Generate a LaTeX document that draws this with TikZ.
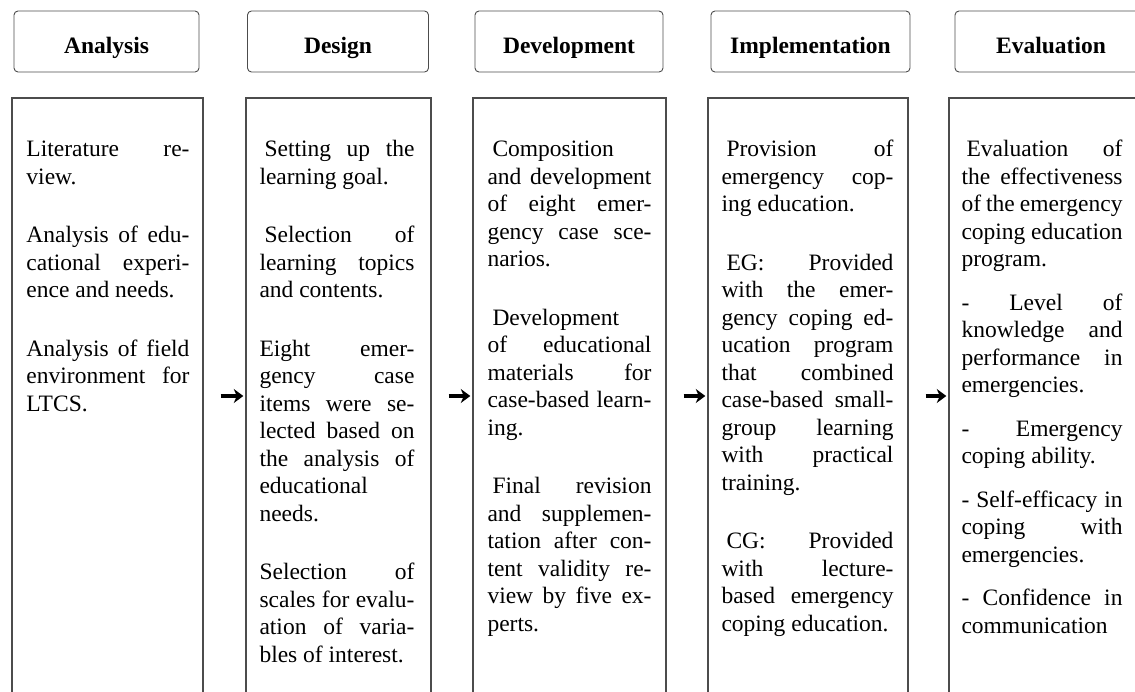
\documentclass[tikz,border=0pt]{standalone}
\usepackage{fontspec}
\setmainfont{Liberation Serif}
\usetikzlibrary{positioning,arrows.meta}

\begin{document}
\begin{tikzpicture}[x=1pt,y=-1pt,
  phase/.style={draw=black!70,line width=0.9pt,rounded corners=4pt,minimum height=61pt,inner sep=0pt,text height=23pt,text depth=0pt,font=\fontsize{23.5}{27}\selectfont\bfseries},
  stagebox/.style={draw=black!70,line width=1.4pt,minimum height=596pt,inner sep=0pt},
  stagetext/.style 2 args={inner sep=0pt,anchor=north west,align=justify,execute at begin node={\fontsize{23.5}{#1}\selectfont\setlength{\parskip}{#2}\strut}},
  flow/.style={line width=3.4pt,-{Stealth[length=9.5pt,width=14pt,inset=3pt]},shorten <=17pt,shorten >=2pt}]

\useasboundingbox (0,0) rectangle (1135,691);
\clip (0,0) rectangle (1135,691);

% phase titles
\node[phase,minimum width=185pt] (anaHead) at (106.5,41.5) {Analysis};
\node[phase,minimum width=181pt] (desHead) at (338,41.5) {Design};
\node[phase,minimum width=188pt] (devHead) at (569,41.5) {Development};
\node[phase,minimum width=199pt] (impHead) at (810.5,41.5) {Implementation};
\node[phase,minimum width=192pt] (evaHead) at (1051,41.5) {Evaluation};

% tall boxes
\node[stagebox,minimum width=191pt] (ana) at (107.5,396) {};
\node[stagebox,minimum width=185pt] (des) at (338.5,396) {};
\node[stagebox,minimum width=193pt] (dev) at (569.5,396) {};
\node[stagebox,minimum width=200pt] (imp) at (808,396) {};
\node[stagebox,minimum width=194pt] (eva) at (1046,396) {};

\node[stagetext={27.5}{31pt},text width=163pt,below right=40pt and 15pt of ana.north west] (anaText) {%
Literature re-\linebreak view.\par
Analysis of edu-\linebreak cational experi-\linebreak ence and needs.\par
Analysis of field\linebreak environment for\linebreak LTCS.};

\node[stagetext={27.5}{31pt},text width=155pt,below right=40pt and 14pt of des.north west] (desText) {%
\hspace*{5pt}Setting up the\linebreak learning goal.\par
\hspace*{5pt}Selection of\linebreak learning topics\linebreak and contents.\par
Eight emer-\linebreak gency case\linebreak items were se-\linebreak lected based on\linebreak the analysis of\linebreak educational\linebreak needs.\par
Selection of\linebreak scales for evalu-\linebreak ation of varia-\linebreak bles of interest.};

\node[stagetext={27.5}{31pt},text width=164pt,below right=40pt and 15pt of dev.north west] (devText) {%
\hspace*{5pt}Composition\linebreak and development\linebreak of eight emer-\linebreak gency case sce-\linebreak narios.\par
\hspace*{5pt}Development\linebreak of educational\linebreak materials for\linebreak case-based learn-\linebreak ing.\par
\hspace*{5pt}Final revision\linebreak and supplemen-\linebreak tation after con-\linebreak tent validity re-\linebreak view by five ex-\linebreak perts.};

\node[stagetext={27.5}{31pt},text width=172pt,below right=40pt and 14pt of imp.north west] (impText) {%
\hspace*{5pt}Provision of\linebreak emergency cop-\linebreak ing education.\par
\hspace*{5pt}EG: Provided\linebreak with the emer-\linebreak gency coping ed-\linebreak ucation program\linebreak that combined\linebreak case-based small-\linebreak group learning\linebreak with practical\linebreak training.\par
\hspace*{5pt}CG: Provided\linebreak with lecture-\linebreak based emergency\linebreak coping education.};

\node[stagetext={27.5}{16pt},text width=161pt,below right=40pt and 13pt of eva.north west] (evaText) {%
\hspace*{5pt}Evaluation of\linebreak the effectiveness\linebreak of the emergency\linebreak coping education\linebreak program.\par
- Level of\linebreak knowledge and\linebreak performance in\linebreak emergencies.\par
- Emergency\linebreak coping ability.\par
- Self-efficacy in\linebreak coping with\linebreak emergencies.\par
- Confidence in\linebreak communication};

\draw[flow] (ana) -- (des);
\draw[flow] (des) -- (dev);
\draw[flow] (dev) -- (imp);
\draw[flow] (imp) -- (eva);

\end{tikzpicture}
\end{document}
